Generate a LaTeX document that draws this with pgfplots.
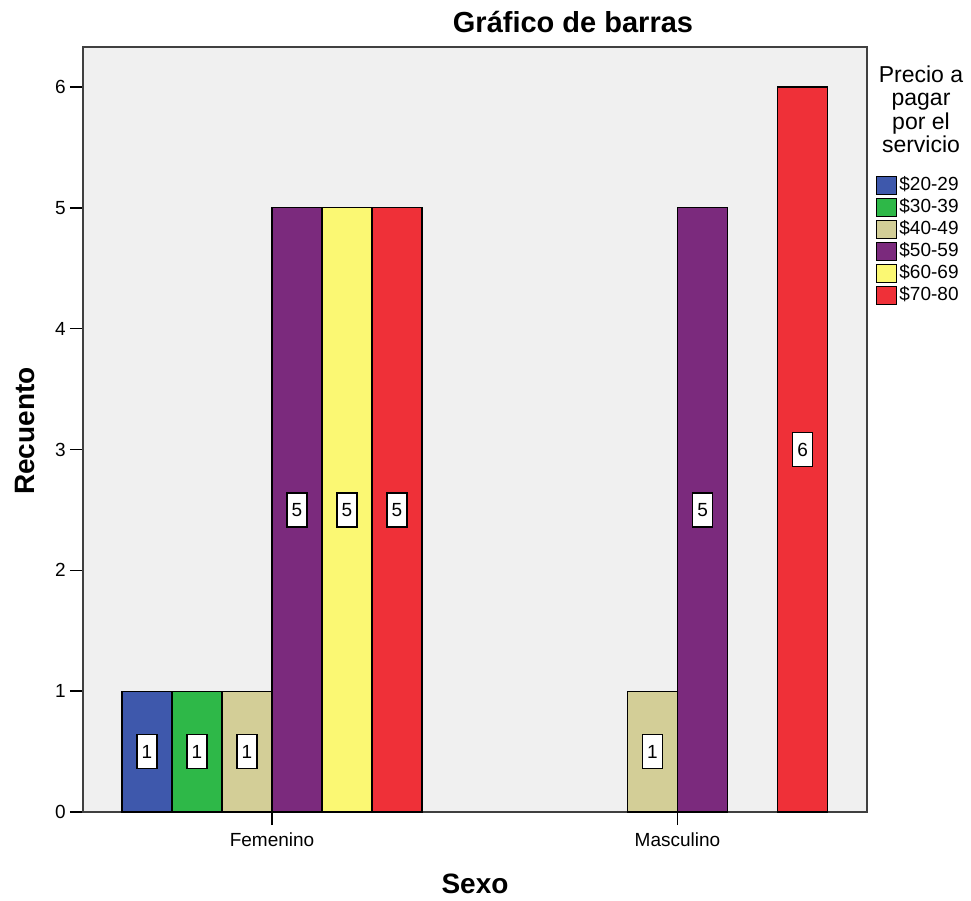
\documentclass[border=0pt]{standalone}
\usepackage{fontspec}
\setmainfont{Liberation Sans}
\usepackage{pgfplots}
\pgfplotsset{compat=1.18}
\definecolor{cA}{HTML}{3E58AC}
\definecolor{cB}{HTML}{2EB848}
\definecolor{cC}{HTML}{D3CE97}
\definecolor{cD}{HTML}{7B2A7D}
\definecolor{cE}{HTML}{FBF873}
\definecolor{cF}{HTML}{EF3038}
\definecolor{bgc}{HTML}{F0F0F0}
\definecolor{frame}{HTML}{404040}
\pgfplotsset{
  mybar/.style={ybar, bar width=0.1233, draw=black, line width=1.2pt,
    legend image code/.code={\draw[##1] (0pt,-9pt) rectangle (20pt,9pt);}},
  mylab/.style={only marks, mark=none, forget plot, nodes near coords,
    point meta=explicit symbolic,
    nodes near coords style={anchor=center, draw=black, fill=white, line width=1.2pt,
      inner sep=0pt, minimum width=20pt, minimum height=34pt,
      font=\fontsize{19}{19}\selectfont}}
}
\begin{document}
\begin{tikzpicture}
\begin{axis}[
  at={(0pt,0pt)}, anchor=south west,
  scale only axis, width=784pt, height=765pt,
  xmin=-0.4661, xmax=1.4673, ymin=0, ymax=6.331,
  axis background/.style={fill=bgc},
  axis line style={draw=frame, line width=1.5pt},
  xtick={0,1}, xticklabels={Femenino,Masculino},
  ytick={0,1,2,3,4,5,6},
  tick pos=left, tick align=outside, major tick length=13pt,
  tick style={draw=black, line width=1.5pt},
  /pgf/number format/assume math mode=true,
  ticklabel style={font=\fontsize{19}{19}\selectfont},
  yticklabel style={anchor=east, inner sep=0pt, xshift=-4pt},
  xticklabel style={anchor=north, inner sep=0pt, yshift=-8pt},
  legend style={at={(1.0115,0.834)}, anchor=north west, draw=none, fill=none,
    font=\fontsize{19}{19}\selectfont, inner sep=0pt,
    nodes={inner sep=2pt, text height=14pt, text depth=4pt},
    /tikz/every even column/.append style={column sep=5pt}},
  legend cell align=left,
  clip=false,
]
\addplot[mybar, fill=cA, bar shift=-0.3083] coordinates {(0,1)};
\addplot[mybar, fill=cB, bar shift=-0.1850] coordinates {(0,1)};
\addplot[mybar, fill=cC, bar shift=-0.0617] coordinates {(0,1) (1,1)};
\addplot[mybar, fill=cD, bar shift=0.0617] coordinates {(0,5) (1,5)};
\addplot[mybar, fill=cE, bar shift=0.1850] coordinates {(0,5)};
\addplot[mybar, fill=cF, bar shift=0.3083] coordinates {(0,5) (1,6)};
\legend{\$20-29,\$30-39,\$40-49,\$50-59,\$60-69,\$70-80}
\addplot[mylab] coordinates {(-0.3083,0.5) [1] (-0.1850,0.5) [1] (-0.0617,0.5) [1]
  (0.0617,2.5) [5] (0.1850,2.5) [5] (0.3083,2.5) [5]
  (0.9383,0.5) [1] (1.0617,2.5) [5] (1.3083,3) [6]};
\end{axis}
\node[anchor=base, font=\fontsize{29}{29}\selectfont\bfseries] at (490pt,779pt) {Gráfico de barras};
\node[anchor=base, font=\fontsize{28}{28}\selectfont\bfseries] at (392pt,-81pt) {Sexo};
\node[rotate=90, anchor=base, font=\fontsize{28}{28}\selectfont\bfseries] at (-48pt,381pt) {Recuento};
\node[anchor=base, font=\fontsize{23}{23}\selectfont] at (838pt,729pt) {Precio a};
\node[anchor=base, font=\fontsize{23}{23}\selectfont] at (838pt,706pt) {pagar};
\node[anchor=base, font=\fontsize{23}{23}\selectfont] at (838pt,682.5pt) {por el};
\node[anchor=base, font=\fontsize{23}{23}\selectfont] at (838pt,659pt) {servicio};
\pgfresetboundingbox
\path (-83pt,-88pt) rectangle (888pt,812pt);
\end{tikzpicture}
\end{document}
